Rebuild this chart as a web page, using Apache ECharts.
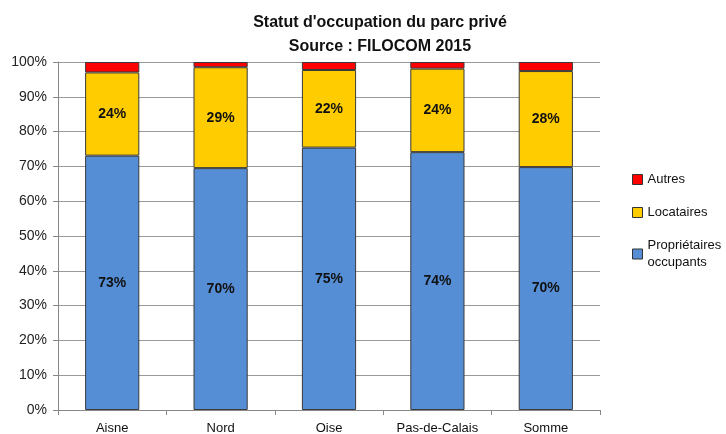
<!DOCTYPE html>
<html><head><meta charset="utf-8">
<script src="https://cdn.jsdelivr.net/npm/echarts@6/dist/echarts.min.js"></script>
<style>html,body{margin:0;padding:0;background:#fff}#c{width:726px;height:434px}</style>
</head><body><div id="c"></div>
<script>
const categories = ['Aisne', 'Nord', 'Oise', 'Pas-de-Calais', 'Somme'];
const proprietaires = [73.1, 69.5, 75.4, 74.1, 69.8];
const locataires = [23.9, 29.0, 22.3, 24.0, 27.6];
const autres = [3.0, 1.5, 2.3, 1.9, 2.6];
const yTicks = [0, 10, 20, 30, 40, 50, 60, 70, 80, 90, 100];

const FONT = '"Liberation Sans Narrow", "Liberation Sans", Arial, sans-serif';
const chart = echarts.init(document.getElementById('c'), null, {renderer: 'canvas'});
const lbl = {
  show: true, position: 'inside', fontFamily: FONT, fontWeight: 'bold', fontSize: 14, color: '#111',
  formatter: p => Math.round(p.value) + '%'
};
const border = {borderColor: '#3a3a3a', borderWidth: 1};
chart.setOption({
  animation: false,
  textStyle: {fontFamily: FONT},
  title: {
    text: "Statut d'occupation du parc privé\nSource : FILOCOM 2015",
    left: 375, top: 6, textAlign: 'center',
    textStyle: {fontFamily: FONT, fontWeight: 'bold', fontSize: 16, lineHeight: 24, color: '#111'}
  },
  legend: {
    orient: 'vertical', left: 627, top: 166, itemWidth: 10, itemHeight: 10, itemGap: 16,
    icon: 'rect',
    data: ['Autres', 'Locataires', 'Propriétaires\noccupants'],
    textStyle: {fontFamily: FONT, fontSize: 13, color: '#111', lineHeight: 17},
    itemStyle: {borderColor: '#333', borderWidth: 1}
  },
  grid: {left: 58, right: 126, top: 62, bottom: 24, outerBoundsMode: 'none'},
  xAxis: {
    type: 'category', data: categories,
    axisLine: {lineStyle: {color: '#888'}},
    axisTick: {show: true, length: 5, lineStyle: {color: '#888'}},
    axisLabel: {fontFamily: FONT, fontSize: 13, color: '#111', margin: 12, interval: 0}
  },
  yAxis: {
    type: 'value', min: 0, max: 100, interval: 10,
    axisLine: {show: true, lineStyle: {color: '#888'}},
    axisTick: {show: true, length: 5, lineStyle: {color: '#888'}},
    splitLine: {lineStyle: {color: '#999'}},
    axisLabel: {fontFamily: FONT, fontSize: 14, color: '#222', margin: 11,
      formatter: v => yTicks.includes(v) ? v + '%' : ''}
  },
  series: [
    {name: 'Propriétaires\noccupants', type: 'bar', stack: 's', data: proprietaires, barWidth: '50%',
      itemStyle: Object.assign({color: '#558ED5'}, border), label: lbl},
    {name: 'Locataires', type: 'bar', stack: 's', data: locataires,
      itemStyle: Object.assign({color: '#FFCC00'}, border), label: lbl},
    {name: 'Autres', type: 'bar', stack: 's', data: autres,
      itemStyle: Object.assign({color: '#FF0000'}, border), label: {show: false}}
  ]
});
</script></body></html>
